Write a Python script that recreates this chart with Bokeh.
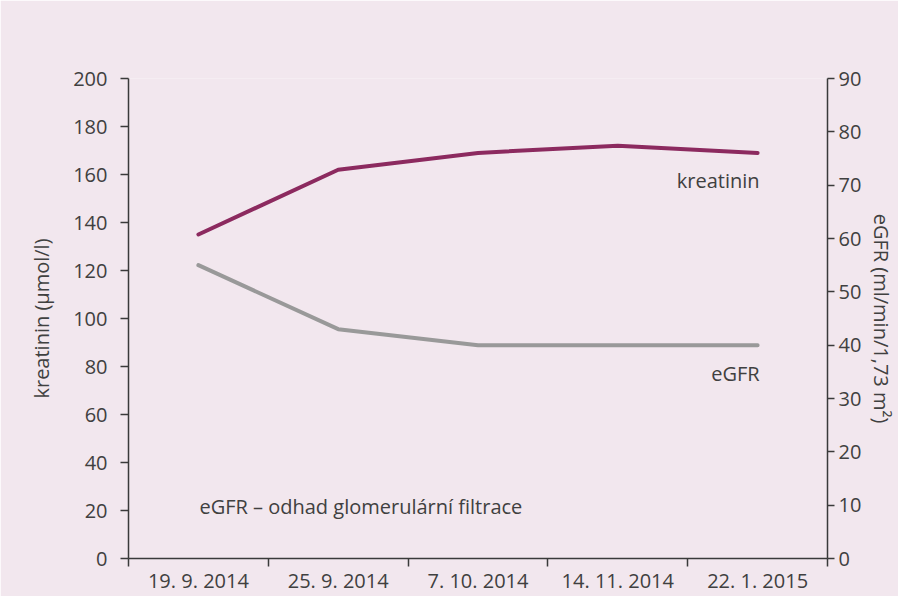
from bokeh.plotting import figure
from bokeh.models import Range1d, LinearAxis, FixedTicker, Label
from bokeh.embed import file_html
from bokeh.resources import INLINE

# ---- data ----
dates = ["19. 9. 2014", "25. 9. 2014", "7. 10. 2014", "14. 11. 2014", "22. 1. 2015"]
kreatinin = [135, 162, 169, 172, 169]
egfr = [55, 43, 40, 40, 40]
left_ticks = [0, 20, 40, 60, 80, 100, 120, 140, 160, 180, 200]
right_ticks = [0, 10, 20, 30, 40, 50, 60, 70, 80, 90]

# ---- style ----
BG = "#f2e7ee"
AXIS = "#3a3a3a"
TXT = "#404040"
KREA_C = "#8c2a5f"
EGFR_C = "#999999"
FONT = "Open Sans"
FS = "20px"

n = len(dates)
xc = [i + 0.5 for i in range(n)]
bounds = [i for i in range(n + 1)]

p = figure(width=898, height=596, output_backend="svg", toolbar_location=None,
           x_range=Range1d(0, n), y_range=Range1d(left_ticks[0], left_ticks[-1]),
           min_border_left=128, min_border_right=40, min_border_top=78,
           min_border_bottom=20,
           background_fill_color=BG, border_fill_color=BG, outline_line_color=None)
p.extra_y_ranges = {"egfr": Range1d(right_ticks[0], right_ticks[-1])}
p.xgrid.visible = False
p.ygrid.visible = False


def style_axis(ax):
    ax.axis_line_color = AXIS
    ax.axis_line_width = 1.5
    ax.major_tick_line_color = AXIS
    ax.major_tick_line_width = 1.5
    ax.minor_tick_line_color = AXIS
    ax.minor_tick_line_width = 1.5
    ax.major_label_text_font = FONT
    ax.major_label_text_font_size = FS
    ax.major_label_text_color = TXT
    ax.axis_label_text_font = FONT
    ax.axis_label_text_font_size = FS
    ax.axis_label_text_font_style = "normal"
    ax.axis_label_text_color = TXT


# x axis: labels at category centres, ticks at category boundaries
xa = p.xaxis[0]
xa.ticker = FixedTicker(ticks=xc, minor_ticks=bounds)
xa.major_label_overrides = {v: d for v, d in zip(xc, dates)}
style_axis(xa)
xa.major_tick_out = 0
xa.major_tick_in = 0
xa.minor_tick_out = 8
xa.minor_tick_in = 0
xa.major_label_standoff = 0

# left axis
ya = p.yaxis[0]
ya.ticker = FixedTicker(ticks=left_ticks)
style_axis(ya)
ya.major_tick_out = 8
ya.major_tick_in = 0
ya.minor_tick_out = 0
ya.minor_tick_in = 0
ya.major_label_standoff = 13
ya.axis_label = "kreatinin (µmol/l)"
ya.axis_label_standoff = 15

# right axis
ra = LinearAxis(y_range_name="egfr", ticker=FixedTicker(ticks=right_ticks))
style_axis(ra)
ra.major_tick_out = 7
ra.major_tick_in = 0
ra.minor_tick_out = 0
ra.minor_tick_in = 0
ra.major_label_standoff = 4
ra.axis_label = "eGFR (ml/min/1,73 m²)"
ra.axis_label_standoff = 4
p.add_layout(ra, "right")

# lines
p.line(xc, egfr, y_range_name="egfr", line_color=EGFR_C, line_width=4,
       line_join="round", line_cap="round")
p.line(xc, kreatinin, line_color=KREA_C, line_width=4,
       line_join="round", line_cap="round")

# labels
p.add_layout(Label(x=xc[-1], y=kreatinin[-1], text="kreatinin", text_align="right",
                   text_baseline="top", y_offset=-14, x_offset=2,
                   text_font=FONT, text_font_size=FS, text_color=TXT))
p.add_layout(Label(x=xc[-1], y=egfr[-1], y_range_name="egfr", text="eGFR",
                   text_align="right", text_baseline="top", y_offset=-15, x_offset=2,
                   text_font=FONT, text_font_size=FS, text_color=TXT))
p.add_layout(Label(x=xc[0], y=21.5, text="eGFR – odhad glomerulární filtrace",
                   text_align="left", text_baseline="middle", x_offset=1,
                   text_font=FONT, text_font_size=FS, text_color=TXT))

open("out.html", "w").write(file_html(p, INLINE))
